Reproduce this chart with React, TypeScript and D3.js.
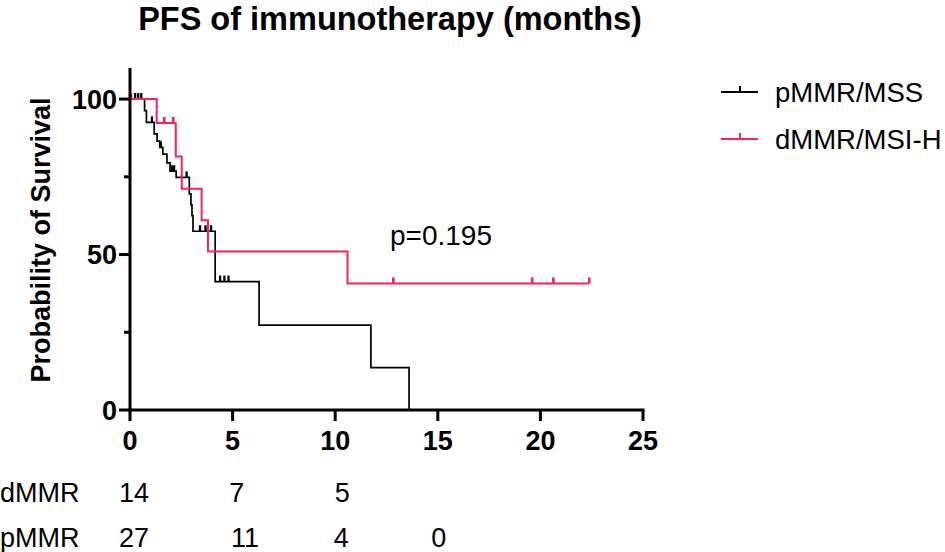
import React from 'react';
import * as d3 from 'd3';

// Kaplan-Meier steps: [months, % surviving]
const pmmrSteps: [number, number][] = [
  [0, 100], [0.71, 96.3], [0.8, 92.5], [1.18, 88.8], [1.32, 86.5], [1.45, 84.5],
  [1.6, 82.3], [1.8, 79.5], [1.95, 76.8], [2.25, 74.8], [2.89, 69.5], [2.97, 66],
  [3.02, 62.5], [3.07, 57.5], [4.15, 41.3], [6.29, 27.3], [11.74, 13.6], [13.6, 0],
];
const pmmrCensored: [number, number][] = [
  [0.25, 100], [0.4, 100], [0.55, 100], [1.07, 92.5], [1.5, 84.5], [2.05, 76.8],
  [2.15, 76.8], [2.76, 74.8], [3.41, 57.5], [3.68, 57.5], [3.95, 57.5],
  [4.39, 41.3], [4.6, 41.3], [4.8, 41.3],
];
const dmmrSteps: [number, number][] = [
  [0, 100], [1.3, 92.3], [2.23, 81.5], [2.52, 71.2], [3.49, 61], [3.8, 51],
  [10.6, 40.7], [22.38, 40.7],
];
const dmmrCensored: [number, number][] = [
  [0.05, 100], [1.67, 92.3], [2.11, 92.3], [12.83, 40.7], [19.6, 40.7],
  [20.63, 40.7], [22.38, 40.7],
];

const xTicks = [0, 5, 10, 15, 20, 25];
const yMajor = [0, 50, 100];
const yMinor = [25, 75];

// numbers at risk: [months where the number sits, count]
const riskDmmr: [number, string][] = [[0.2, '14'], [5.2, '7'], [10.35, '5']];
const riskPmmr: [number, string][] = [[0.2, '27'], [5.6, '11'], [10.3, '4'], [15.05, '0']];

const legend = [
  { label: 'pMMR/MSS', color: '#000000' },
  { label: 'dMMR/MSI-H', color: '#ff1f5c' },
];

const W = 945;
const H = 552;
const font = '"Liberation Sans", Arial, sans-serif';

const App: React.FC = () => {
  const x = d3.scaleLinear().domain([0, 25]).range([130, 643]);
  const y = d3.scaleLinear().domain([0, 110]).range([410, 68]);

  const line = d3.line<[number, number]>()
    .x(d => x(d[0]))
    .y(d => y(d[1]))
    .curve(d3.curveStepAfter);

  const series = [
    { steps: pmmrSteps, cens: pmmrCensored, color: legend[0].color, w: 1.7 },
    { steps: dmmrSteps, cens: dmmrCensored, color: legend[1].color, w: 2 },
  ];

  return (
    <div style={{ position: 'fixed', left: 0, top: 0 }}>
      <svg width={W} height={H} style={{ display: 'block', background: '#fff' }}>
        <text x={390} y={30} textAnchor="middle" fontFamily={font} fontWeight="bold" fontSize={32.5}>
          PFS of immunotherapy (months)
        </text>

        <text transform={`translate(50,240) rotate(-90)`} textAnchor="middle"
          fontFamily={font} fontWeight="bold" fontSize={27}>
          Probability of Survival
        </text>

        {/* curves */}
        {series.map((s, i) => (
          <g key={i} stroke={s.color} strokeWidth={s.w} fill="none">
            <path d={line(s.steps) || ''} />
            {s.cens.map((c, j) => (
              <line key={j} x1={x(c[0])} x2={x(c[0])} y1={y(c[1])} y2={y(c[1]) - 6}
                strokeWidth={s.w + 0.6} />
            ))}
          </g>
        ))}

        {/* axes */}
        <g stroke="#000" strokeWidth={3}>
          <line x1={x(0)} x2={x(0)} y1={y(110)} y2={y(0) + 1.5} />
          <line x1={x(0) - 1.5} x2={x(25) + 1.5} y1={y(0)} y2={y(0)} />
          {xTicks.map(t => (
            <line key={t} x1={x(t)} x2={x(t)} y1={y(0)} y2={y(0) + 11} />
          ))}
          {yMajor.map(v => (
            <line key={v} x1={x(0) - 11} x2={x(0)} y1={y(v)} y2={y(v)} />
          ))}
          {yMinor.map(v => (
            <line key={v} x1={x(0) - 6} x2={x(0)} y1={y(v)} y2={y(v)} />
          ))}
        </g>
        <g fontFamily={font} fontWeight="bold" fontSize={27}>
          {xTicks.map(t => (
            <text key={t} x={x(t)} y={450} textAnchor="middle">{t}</text>
          ))}
          {yMajor.map(v => (
            <text key={v} x={x(0) - 13} y={y(v)} dy="0.36em" textAnchor="end">{v}</text>
          ))}
        </g>

        <text x={390} y={245} fontFamily={font} fontSize={28}>p=0.195</text>

        {/* legend */}
        {legend.map((l, i) => {
          const ly = 92 + i * 47;
          return (
            <g key={l.label}>
              <g stroke={l.color} strokeWidth={2}>
                <line x1={721} x2={758} y1={ly} y2={ly} />
                <line x1={740} x2={740} y1={ly} y2={ly - 6} />
              </g>
              <text x={775} y={ly} dy="0.36em" fontFamily={font} fontSize={27.5}>{l.label}</text>
            </g>
          );
        })}

        {/* numbers at risk */}
        <g fontFamily={font} fontSize={27}>
          <text x={0} y={492} dy="0.36em">dMMR</text>
          <text x={0} y={537} dy="0.36em">pMMR</text>
          {riskDmmr.map(r => (
            <text key={'d' + r[0]} x={x(r[0])} y={492} dy="0.36em" textAnchor="middle">{r[1]}</text>
          ))}
          {riskPmmr.map(r => (
            <text key={'p' + r[0]} x={x(r[0])} y={537} dy="0.36em" textAnchor="middle">{r[1]}</text>
          ))}
        </g>
      </svg>
    </div>
  );
};

export default App;
